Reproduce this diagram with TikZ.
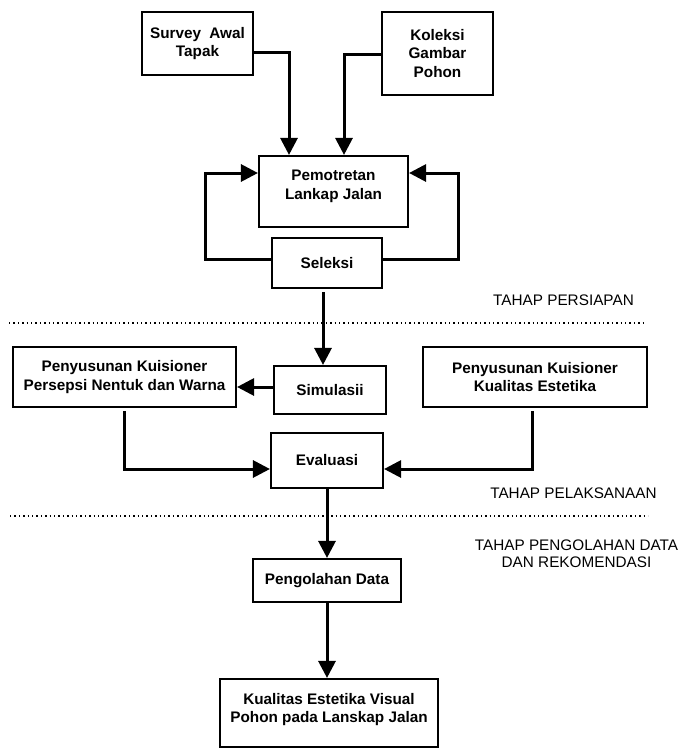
\documentclass[tikz,border=0pt]{standalone}
\usepackage{fontspec}
\setmainfont{Liberation Sans}
\usetikzlibrary{arrows.meta}
\begin{document}
\begin{tikzpicture}[x=1pt,y=-1pt,
  box/.style={draw,line width=2.1pt,align=center,inner sep=2pt,
    font=\fontsize{15.3}{18.5}\selectfont\bfseries},
  conn/.style={line width=3pt,-{Triangle[width=17pt,length=17pt]}},
  sep/.style={line width=1.4pt,dash pattern=on 1.4pt off 3pt},
  phase/.style={align=center,font=\fontsize{15.3}{17}\selectfont}]
\useasboundingbox (0,0) rectangle (686,749);
% boxes
\node[box,minimum width=111pt,minimum height=63pt] (survey) at (197.5,43.5) {Survey\hspace{8.3pt}Awal\\Tapak};
\node[box,minimum width=111pt,minimum height=83pt] (koleksi) at (437.5,53.5) {Koleksi\\Gambar\\Pohon};
\node[box,minimum width=149pt,minimum height=71pt,text depth=14pt] (pemot) at (333.5,191.5) {Pemotretan\\Lankap Jalan};
\node[box,minimum width=110pt,minimum height=50pt] (seleksi) at (327,263) {Seleksi};
\node[box,minimum width=223pt,minimum height=60pt] (pkl) at (124.5,377) {Penyusunan Kuisioner\\Persepsi Nentuk dan Warna};
\node[box,minimum width=112pt,minimum height=48pt] (simul) at (330,390) {Simulasii};
\node[box,minimum width=224pt,minimum height=60pt] (pkr) at (535,377) {Penyusunan Kuisioner\\Kualitas Estetika};
\node[box,minimum width=112pt,minimum height=55pt] (eval) at (327,460.5) {Evaluasi};
\node[box,minimum width=148pt,minimum height=43pt] (peng) at (327,580.5) {Pengolahan Data};
\node[box,minimum width=218pt,minimum height=68pt,text depth=10pt] (kual) at (329,713) {Kualitas Estetika Visual\\Pohon pada Lanskap Jalan};
% phase labels
\node[phase] (t1) at (563.5,300) {TAHAP PERSIAPAN};
\node[phase] (t2) at (573.5,493) {TAHAP PELAKSANAAN};
\node[phase] (t3) at (576.5,553.5) {TAHAP PENGOLAHAN DATA\\DAN REKOMENDASI};
% separators
\coordinate (s1a) at (9,323); \coordinate (s1b) at (643,323);
\coordinate (s2a) at (10,516); \coordinate (s2b) at (648,516);
\draw[sep] (s1a) -- (s1b);
\draw[sep] (s2a) -- (s2b);
% connectors
\draw[conn] ([yshift=-9.5pt]survey.east) -| ([xshift=-44.5pt]pemot.north);
\draw[conn] ([yshift=-1.5pt]koleksi.west) -| ([xshift=10.5pt]pemot.north);
\draw[conn] ([yshift=4pt]seleksi.west) -- ++(-65,0) |- ([yshift=18.5pt]pemot.west);
\draw[conn] ([yshift=4pt]seleksi.east) -- ++(75,0) |- ([yshift=18.5pt]pemot.east);
\draw[conn] ([xshift=-4pt,yshift=-3pt]seleksi.south) -- ([xshift=-4pt]seleksi.south |- simul.north);
\draw[conn] ([yshift=3pt]simul.west) -- ([yshift=3pt]simul.west -| pkl.east);
\draw[conn] ([yshift=-3pt]pkl.south) |- ([yshift=-8.5pt]eval.west);
\draw[conn] ([xshift=-3pt,yshift=-3pt]pkr.south) |- ([yshift=-8.5pt]eval.east);
\draw[conn] (eval.south) -- (peng.north);
\draw[conn] (peng.south) -- (peng.south |- kual.north);
\end{tikzpicture}
\end{document}
